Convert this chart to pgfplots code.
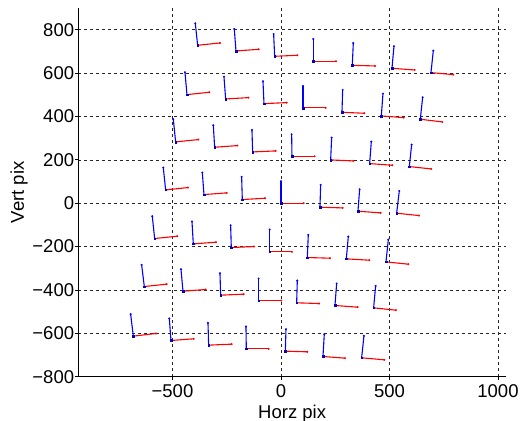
\documentclass[border=0pt]{standalone}
\usepackage{fontspec}
\setmainfont{Liberation Sans}
\usepackage{pgfplots}
\usepackage{pgfplotstable}
\pgfplotsset{compat=1.18}
\usetikzlibrary{calc}

% base point, up arm (bu,bv), right arm (ru,rv)
\pgfplotstableread{
x y bu bv ru rv
-384.0 728.0 -10.8 101.4 102.9 10.8
-207.4 701.8 -7.7 101.4 104.5 7.7
-29.2 677.3 -4.6 102.9 104.5 4.6
149.0 654.2 0.0 102.9 104.5 0.0
328.7 635.8 4.6 102.9 104.5 -3.1
511.5 622.0 9.2 101.4 104.5 -7.7
691.2 602.0 10.8 101.4 102.9 -9.2
-433.2 500.6 -9.2 102.9 102.9 10.8
-255.0 480.6 -7.7 102.9 104.5 6.1
-78.3 459.1 -4.6 102.9 104.5 4.6
101.4 439.2 0.0 101.4 104.5 0.0
281.1 419.2 3.1 102.9 102.9 -4.6
462.4 402.3 7.7 102.9 102.9 -7.7
642.1 387.0 10.8 101.4 101.4 -12.3
-485.4 282.5 -10.8 104.5 104.5 10.8
-305.7 257.9 -6.1 101.4 104.5 7.7
-130.6 236.4 -3.1 101.4 106.0 4.6
50.7 216.4 -1.5 101.4 104.5 0.0
228.9 199.5 4.6 102.9 104.5 -4.6
408.6 182.6 7.7 101.4 104.5 -7.7
591.4 168.8 10.8 101.4 101.4 -10.8
-531.5 61.3 -10.8 102.9 102.9 10.8
-354.8 39.8 -7.7 101.4 104.5 7.7
-178.2 16.7 -3.1 104.5 104.5 6.1
0.0 0.0 0.0 101.4 104.5 0.0
179.7 -18.6 3.1 102.9 104.5 -3.1
354.8 -37.0 7.7 101.4 104.5 -7.7
533.0 -46.2 12.3 102.9 102.9 -10.8
-582.2 -163.0 -10.8 102.9 104.5 10.8
-404.0 -187.6 -6.1 102.9 104.5 7.7
-228.9 -204.5 -3.1 102.9 104.5 4.6
-52.2 -224.4 0.0 102.9 102.9 0.0
121.3 -250.5 4.6 104.5 104.5 -3.1
301.1 -256.7 9.2 102.9 106.0 -6.1
483.9 -270.5 10.8 102.9 102.9 -10.8
-629.8 -384.2 -12.3 99.8 102.9 10.8
-451.6 -405.7 -9.2 101.4 104.5 7.7
-278.0 -424.1 -3.1 101.4 106.0 4.6
-102.9 -448.7 0.0 101.4 104.5 0.0
72.2 -459.4 3.1 102.9 102.9 -3.1
248.8 -471.7 7.7 101.4 104.5 -7.7
427.0 -482.5 9.2 101.4 102.9 -10.8
-680.5 -613.0 -12.3 101.4 104.5 12.3
-506.9 -633.0 -7.7 101.4 104.5 7.7
-333.3 -654.5 -3.1 102.9 106.0 4.6
-159.8 -671.4 -1.5 102.9 102.9 0.0
20.0 -682.2 3.1 101.4 101.4 -3.1
193.5 -706.8 6.1 102.9 101.4 -7.7
371.7 -712.9 10.8 101.4 104.5 -9.2
}\marks

\begin{document}
\begin{tikzpicture}
\begin{axis}[
    name=ax,
    width=427.7bp, height=368.7bp, scale only axis,
    xmin=-934, xmax=1037, ymin=-800, ymax=900,
    axis x line*=bottom, axis y line*=left,
    axis line style={-, black, line width=0.8bp},
    tick align=outside, major tick length=3bp,
    tick style={black, line width=0.8bp},
    xtick={-500,0,500,1000},
    xticklabels={−500,0,500,1000},
    ytick={-800,-600,-400,-200,0,200,400,600,800},
    yticklabels={−800,−600,−400,−200,0,200,400,600,800},
    tick label style={font=\fontsize{18.5bp}{22bp}\selectfont, inner sep=0pt},
    xticklabel style={yshift=-5bp},
    yticklabel style={xshift=-1bp},
    grid=major,
    major grid style={black!85, line width=0.6bp, dash pattern=on 3bp off 3bp},
    xlabel={Horz pix}, ylabel={Vert pix},
    label style={font=\fontsize{18.5bp}{22bp}\selectfont, inner sep=0pt},
    xlabel style={at={(axis description cs:0.5,-0.0759)}, anchor=north},
    ylabel style={at={(axis description cs:-0.159,0.5)}, anchor=north, rotate=0},
    clip=false,
]
\addplot[blue, line width=1.1bp, no marks, quiver={u=\thisrow{bu}, v=\thisrow{bv}}]
    table[x=x, y=y] {\marks};
\addplot[red, line width=1.1bp, no marks, quiver={u=\thisrow{ru}, v=\thisrow{rv}}]
    table[x=x, y=y] {\marks};
\addplot[only marks, blue, mark=*, mark size=0.8bp]
    table[x expr=\thisrow{x}+\thisrow{bu}, y expr=\thisrow{y}+\thisrow{bv}] {\marks};
\addplot[only marks, red, mark=*, mark size=0.8bp]
    table[x expr=\thisrow{x}+\thisrow{ru}, y expr=\thisrow{y}+\thisrow{rv}] {\marks};
\addplot[only marks, blue!75!black, mark=square*, mark size=0.8bp]
    table[x=x, y=y] {\marks};
\end{axis}
\pgfresetboundingbox
\useasboundingbox ($(ax.south west)+(-78.3bp,-44.3bp)$) rectangle ($(ax.north east)+(15bp,8bp)$);
\end{tikzpicture}
\end{document}
